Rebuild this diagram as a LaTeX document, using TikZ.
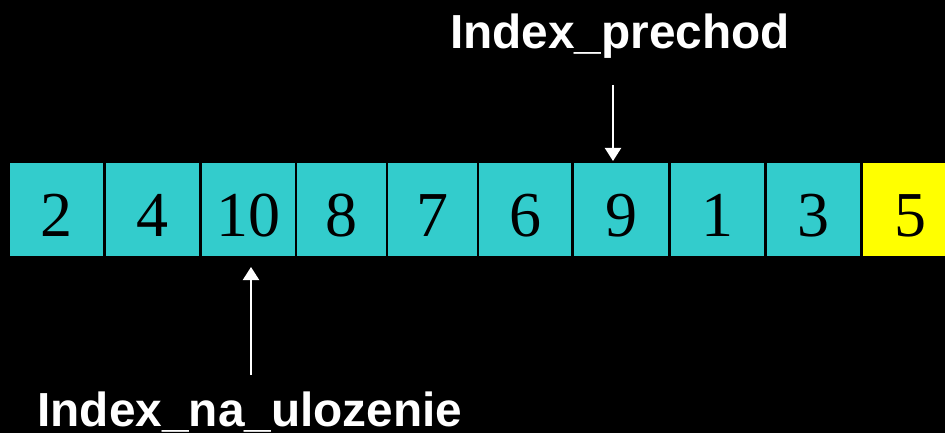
\documentclass[tikz,border=0pt]{standalone}
\usepackage{fontspec}
\setmainfont{Liberation Serif}
\newfontfamily\labelfont{Liberation Sans}
\usetikzlibrary{arrows.meta}
\definecolor{cellcyan}{HTML}{33CCCC}
\definecolor{cellyellow}{HTML}{FFFF00}
\tikzset{
  cellbox/.style={draw=black, line width=2.5pt, fill=cellcyan, inner sep=0pt,
    minimum height=95pt, text height=53pt, text depth=0pt,
    font=\fontsize{64}{64}\selectfont, text=black},
  lbl/.style={text=white, inner sep=0pt, font=\labelfont\bfseries\fontsize{47.8}{47.8}\selectfont},
  ptr/.style={white, line width=2pt, -{Triangle[length=13pt,width=16pt]}}
}
\begin{document}
\begin{tikzpicture}[x=1pt,y=-1pt]
\fill[black] (0,0) rectangle (945,433);
\useasboundingbox (0,0) rectangle (945,433);
\clip (0,0) rectangle (945,433);
\node[cellbox, minimum width=95.5pt] (c1) at (56.75,209.5) {2};
\node[cellbox, minimum width=96pt] (c2) at (152.5,209.5) {4};
\node[cellbox, minimum width=95.5pt] (c3) at (248.25,209.5) {10};
\node[cellbox, minimum width=91pt] (c4) at (341.5,209.5) {8};
\node[cellbox, minimum width=91pt] (c5) at (432.5,209.5) {7};
\node[cellbox, minimum width=94.5pt] (c6) at (525.25,209.5) {6};
\node[cellbox, minimum width=97pt] (c7) at (621,209.5) {9};
\node[cellbox, minimum width=96pt] (c8) at (717.5,209.5) {1};
\node[cellbox, minimum width=96pt] (c9) at (813.5,209.5) {3};
\node[cellbox, fill=cellyellow, minimum width=97pt] (c10) at (910,209.5) {5};
\node[lbl, anchor=base] (lp) at (620,49) {Index\_prechod};
\node[lbl, anchor=base] (ln) at (250,426) {Index\_na\_ulozenie};
\coordinate (p1s) at (613,85);
\coordinate (p1e) at (613,161);
\coordinate (p2s) at (251,375);
\coordinate (p2e) at (251,267);
\draw[ptr] (p1s) -- (p1e);
\draw[ptr] (p2s) -- (p2e);
\end{tikzpicture}
\end{document}
